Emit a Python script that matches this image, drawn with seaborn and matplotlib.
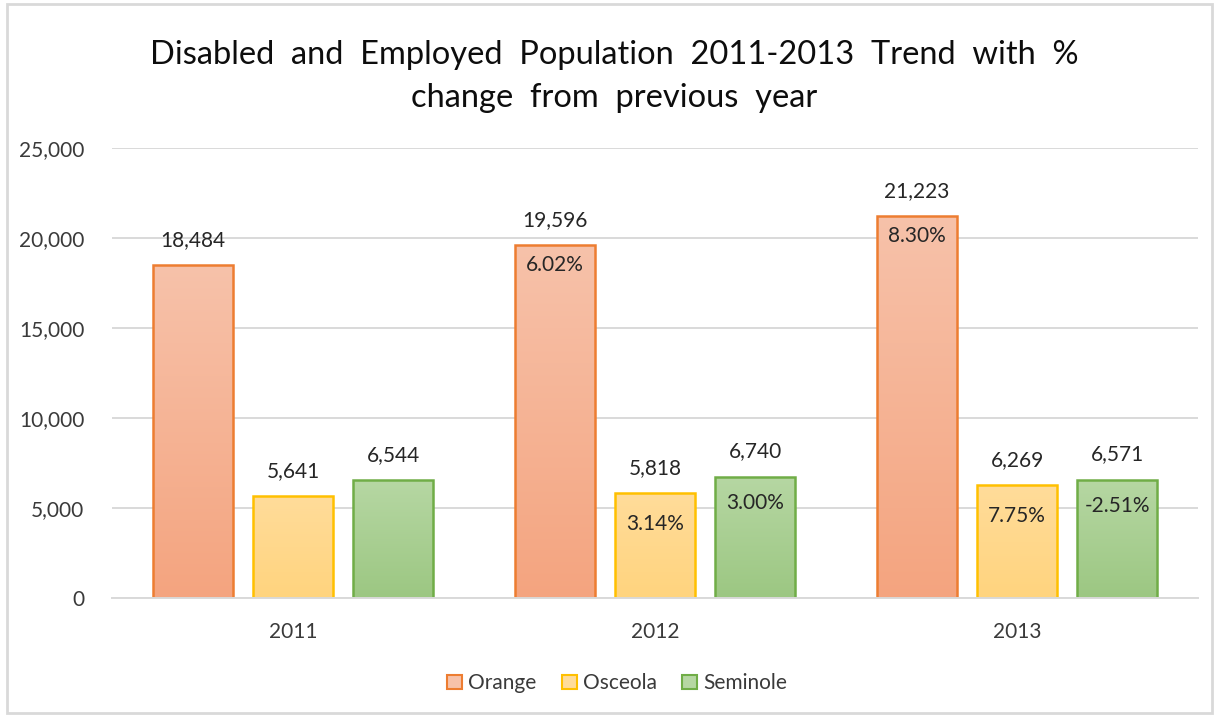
import numpy as np
import pandas as pd
import matplotlib
matplotlib.use("Agg")
import matplotlib.pyplot as plt
import seaborn as sns
from matplotlib.colors import LinearSegmentedColormap
from matplotlib.patches import Rectangle, Patch
from matplotlib.ticker import FuncFormatter

years = ["2011", "2012", "2013"]
counties = ["Orange", "Osceola", "Seminole"]
orange_vals = [18484, 19596, 21223]
osceola_vals = [5641, 5818, 6269]
seminole_vals = [6544, 6740, 6571]

edge_colors = ["#ED7D31", "#FFC000", "#70AD47"]
fill_top = ["#F7C2AA", "#FFDC9A", "#B6D7A3"]
fill_bottom = ["#F4A47F", "#FFD47E", "#9CC782"]

df = pd.DataFrame({
    "Year": np.repeat(years, len(counties)).tolist(),
    "County": counties * len(years),
    "Value": [v for trio in zip(orange_vals, osceola_vals, seminole_vals) for v in trio],
})

sns.set_theme(style="white")
plt.rcParams["font.family"] = ["Lato", "DejaVu Sans"]

fig = plt.figure(figsize=(12.17, 7.17), dpi=100)
ax = fig.add_axes([0.092, 0.166, 0.8924, 0.6276])

sns.barplot(data=df, x="Year", y="Value", hue="County", order=years,
            hue_order=counties, palette=fill_bottom, width=0.83,
            gap=0.2, ax=ax, legend=False, errorbar=None)

ax.set_ylim(0, 25000)
ax.set_xlim(-0.5, 2.5)
ax.set_yticks(range(0, 25001, 5000))
ax.yaxis.set_major_formatter(FuncFormatter(lambda v, p: f"{int(v):,}"))
ax.grid(axis="y", color="#D9D9D9", linewidth=1.4)
ax.set_axisbelow(True)
for s in ["left", "right", "top"]:
    ax.spines[s].set_visible(False)
ax.spines["bottom"].set_color("#D9D9D9")
ax.spines["bottom"].set_linewidth(1.4)
ax.tick_params(axis="y", length=0, pad=20, labelsize=15, labelcolor="#3A3A3A")
ax.tick_params(axis="x", length=0, pad=17, labelsize=15, labelcolor="#3A3A3A")
ax.set_xlabel("")
ax.set_ylabel("")

series = [orange_vals, osceola_vals, seminole_vals]
inner_offset = [1100, 1700, 1450]

for ci, container in enumerate(ax.containers):
    vals = series[ci]
    cmap = LinearSegmentedColormap.from_list(f"g{ci}", [fill_bottom[ci], fill_top[ci]])
    for yi, bar in enumerate(container):
        bar.set_edgecolor(edge_colors[ci])
        bar.set_linewidth(1.8)
        x0, w, h = bar.get_x(), bar.get_width(), bar.get_height()
        grad = np.linspace(0, 1, 256).reshape(-1, 1)
        im = ax.imshow(grad, cmap=cmap, origin="lower", aspect="auto",
                       extent=[x0, x0 + w, 0, h], zorder=bar.get_zorder() - 0.01)
        im.set_clip_path(bar)
        bar.set_facecolor("none")
        cx = x0 + w / 2
        ax.text(cx, h + 850, f"{vals[yi]:,}", ha="center", va="bottom",
                fontsize=15, color="#262626")
        if yi > 0:
            pct = (vals[yi] / vals[yi - 1] - 1) * 100
            ax.text(cx, h - inner_offset[ci], f"{pct:.2f}%", ha="center",
                    va="center", fontsize=15, color="#262626")

ax.set_xlim(-0.5, 2.5)
ax.set_ylim(0, 25000)

handles = [Patch(facecolor=fill_top[i], edgecolor=edge_colors[i], linewidth=1.5,
                 label=counties[i]) for i in range(3)]
fig.legend(handles=handles, loc="center", bbox_to_anchor=(0.507, 0.047), ncol=3,
           frameon=False, fontsize=15, handlelength=0.72, handleheight=0.72,
           handletextpad=0.3, columnspacing=1.2, labelcolor="#3A3A3A")

fig.text(0.505, 0.893, "Disabled  and  Employed  Population  2011-2013  Trend  with  %\nchange  from  previous  year",
         ha="center", va="center", fontsize=23.5, color="#0D0D0D", linespacing=1.52)

fig.patches.append(Rectangle((7 / 1217, 4 / 717), 1205 / 1217, 709 / 717,
                             transform=fig.transFigure, fill=False,
                             edgecolor="#D9D9D9", linewidth=2))

fig.savefig("out.png", dpi=100, facecolor="white")
